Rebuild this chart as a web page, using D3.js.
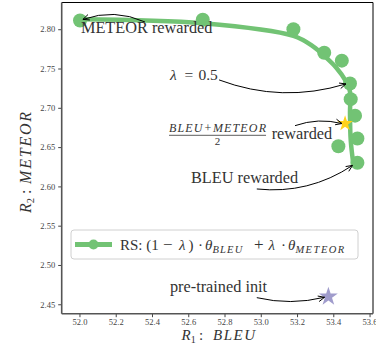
<!DOCTYPE html>
<html>
<head>
<meta charset="utf-8">
<script src="https://cdn.jsdelivr.net/npm/d3@7"></script>
<style>
  body { margin: 0; background: #fff; }
  text { font-family: "Liberation Serif", "DejaVu Serif", serif; fill: #333; }
</style>
</head>
<body>
<svg></svg>
<script>
// points of the rewarded soup, lambda from 0 (BLEU) to 1 (METEOR)
const rsBleu = [53.533, 53.428, 53.533, 53.52, 53.496, 53.492, 53.447, 53.35, 53.18, 52.68, 52.003];
const rsMeteor = [2.630, 2.651, 2.661, 2.690, 2.711, 2.731, 2.760, 2.770, 2.800, 2.812, 2.811];

// smooth curve drawn through the soup
const curveBleu = [53.51, 53.496, 53.492, 53.492, 53.465, 53.419, 53.355, 53.29, 53.18, 52.68, 52.003];
const curveMeteor = [2.6295, 2.6591, 2.6935, 2.7206, 2.7355, 2.7504, 2.7651, 2.7779, 2.7915, 2.8076, 2.8127];

// stars
const avgPoint = [53.465, 2.680];
const initPoint = [53.373, 2.4597];

const xTicks = [52.0, 52.2, 52.4, 52.6, 52.8, 53.0, 53.2, 53.4, 53.6];
const yTicks = [2.45, 2.50, 2.55, 2.60, 2.65, 2.70, 2.75, 2.80];

// svg size
const w = 376;
const h = 346;
const margin = { top: 2.5, right: 3, bottom: 32.3, left: 61.7 };
const chartW = w - margin.left - margin.right;
const chartH = h - margin.top - margin.bottom;

const green = "#72c374";

const svg = d3.select("svg").attr("width", w).attr("height", h);
const chart = svg.append("g")
  .attr("transform", `translate(${margin.left}, ${margin.top})`);

const xScale = d3.scaleLinear().domain([51.902, 53.619]).range([0, chartW]);
const yScale = d3.scaleLinear().domain([2.438, 2.834]).range([chartH, 0]);

// axes
const xAxis = chart.append("g")
  .attr("transform", `translate(0, ${chartH})`)
  .call(d3.axisBottom(xScale).tickValues(xTicks).tickFormat(d3.format(".1f")).tickSize(3.5).tickPadding(2));
const yAxis = chart.append("g")
  .call(d3.axisLeft(yScale).tickValues(yTicks).tickFormat(d3.format(".2f")).tickSize(3.5).tickPadding(3));
[xAxis, yAxis].forEach(a => {
  a.select(".domain").remove();
  a.selectAll(".tick line").attr("stroke", "#444").attr("stroke-width", 1);
  a.selectAll(".tick text").attr("font-size", 8.5).style("fill", "#444");
});

// spines
chart.append("line").attr("x1", 0).attr("x2", chartW).attr("y1", 0).attr("y2", 0)
  .attr("stroke", "#000").attr("stroke-width", 1);
chart.append("line").attr("x1", chartW).attr("x2", chartW).attr("y1", 0).attr("y2", chartH)
  .attr("stroke", "#000").attr("stroke-width", 1);
chart.append("line").attr("x1", 0).attr("x2", 0).attr("y1", 0).attr("y2", chartH)
  .attr("stroke", "#555").attr("stroke-width", 1.6);
chart.append("line").attr("x1", 0).attr("x2", chartW).attr("y1", chartH).attr("y2", chartH)
  .attr("stroke", "#555").attr("stroke-width", 1.6);

// curve
const curveData = curveBleu.map((d, i) => [d, curveMeteor[i]]);
chart.append("path")
  .datum(curveData)
  .attr("fill", "none")
  .attr("stroke", green)
  .attr("stroke-width", 4.5)
  .attr("stroke-linecap", "round")
  .attr("d", d3.line().x(d => xScale(d[0])).y(d => yScale(d[1])).curve(d3.curveCatmullRom));

// soup points
chart.selectAll(".rs")
  .data(rsBleu.map((d, i) => [d, rsMeteor[i]]))
  .enter()
  .append("circle")
  .attr("cx", d => xScale(d[0]))
  .attr("cy", d => yScale(d[1]))
  .attr("r", 7)
  .attr("fill", green);

// stars
const star = d3.symbol().type(d3.symbolStar);
chart.append("path")
  .attr("d", star.size(75)())
  .attr("transform", `translate(${xScale(avgPoint[0])}, ${yScale(avgPoint[1])})`)
  .attr("fill", "#ffd21a");
chart.append("path")
  .attr("d", star.size(110)())
  .attr("transform", `translate(${xScale(initPoint[0])}, ${yScale(initPoint[1])})`)
  .attr("fill", "#a09ccc");

// annotations: text position, arrow start, arrow end, bend
const notes = [
  { text: "METEOR rewarded", at: [52.008, 2.7957], from: [52.361, 2.8093], to: [52.019, 2.8125], rad: 0.2 },
  { text: "λ = 0.5", at: [52.499, 2.7355], from: [52.77, 2.7355], to: [53.47, 2.7304], rad: 0.17 },
  { text: "rewarded", at: [53.06, 2.660], from: [53.189, 2.6773], to: [53.448, 2.680], rad: -0.15 },
  { text: "BLEU rewarded", at: [52.615, 2.604], from: [52.978, 2.5967], to: [53.506, 2.6267], rad: 0.18 },
  { text: "pre-trained init", at: [52.499, 2.466], from: [52.978, 2.4584], to: [53.352, 2.4589], rad: 0.12 }
];

notes.forEach(n => {
  const tx = xScale(n.at[0]);
  const t = chart.append("text")
    .attr("x", tx)
    .attr("y", yScale(n.at[1]))
    .attr("font-size", 16.3);
  if (n.text === "λ = 0.5") {
    t.attr("font-size", 15.5);
    t.append("tspan").attr("font-style", "italic").text("λ");
    t.append("tspan").attr("x", tx + 14.5).text("=");
    t.append("tspan").attr("x", tx + 28.5).text("0.5");
  } else {
    t.text(n.text);
  }

  const x1 = xScale(n.from[0]), y1 = yScale(n.from[1]);
  const x2 = xScale(n.to[0]), y2 = yScale(n.to[1]);
  const dx = x2 - x1, dy = y2 - y1;
  const cx = (x1 + x2) / 2 - n.rad * dy;
  const cy = (y1 + y2) / 2 + n.rad * dx;
  chart.append("path")
    .attr("d", `M${x1},${y1}Q${cx},${cy} ${x2},${y2}`)
    .attr("fill", "none").attr("stroke", "#000").attr("stroke-width", 1);
  // open arrow head
  const ang = Math.atan2(y2 - cy, x2 - cx);
  const len = 7, spread = 0.42;
  const hx1 = x2 - len * Math.cos(ang - spread), hy1 = y2 - len * Math.sin(ang - spread);
  const hx2 = x2 - len * Math.cos(ang + spread), hy2 = y2 - len * Math.sin(ang + spread);
  chart.append("path")
    .attr("d", `M${hx1},${hy1}L${x2},${y2}L${hx2},${hy2}`)
    .attr("fill", "none").attr("stroke", "#000").attr("stroke-width", 1);
});

// fraction (BLEU+METEOR)/2
const fracX = xScale(52.494) + (266 - 169) / 2;
const fracY = yScale(2.665);
chart.append("text")
  .attr("x", fracX).attr("y", fracY - 3.5)
  .attr("text-anchor", "middle")
  .attr("font-size", 12).attr("font-style", "italic")
  .attr("textLength", 97)
  .text("BLEU+METEOR");
chart.append("line")
  .attr("x1", fracX - 48.5).attr("x2", fracX + 48.5)
  .attr("y1", fracY).attr("y2", fracY)
  .attr("stroke", "#333").attr("stroke-width", 0.8);
chart.append("text")
  .attr("x", fracX).attr("y", fracY + 9.5)
  .attr("text-anchor", "middle")
  .attr("font-size", 11)
  .text("2");

// legend
const leg = svg.append("g");
leg.append("rect")
  .attr("x", 71).attr("y", 230).attr("width", 287).attr("height", 29)
  .attr("rx", 3).attr("fill", "#fff").attr("stroke", "#d0d0d0").attr("stroke-width", 1);
leg.append("line")
  .attr("x1", 75).attr("x2", 112).attr("y1", 244.5).attr("y2", 244.5)
  .attr("stroke", green).attr("stroke-width", 5);
leg.append("circle").attr("cx", 93.5).attr("cy", 244.5).attr("r", 5).attr("fill", green);
const lt = leg.append("text").attr("x", 120).attr("y", 249.5).attr("font-size", 15);
lt.append("tspan").text("RS: (1");
lt.append("tspan").attr("x", 163).attr("font-size", 17).text("−");
lt.append("tspan").attr("x", 179).attr("font-style", "italic").text("λ");
lt.append("tspan").attr("x", 188.5).text(")");
lt.append("tspan").attr("x", 198).text("·");
lt.append("tspan").attr("x", 205).attr("font-style", "italic").text("θ");
lt.append("tspan").attr("font-style", "italic").attr("font-size", 10.5)
  .attr("letter-spacing", 1.2).attr("dy", 3).text("BLEU");
lt.append("tspan").attr("x", 254).attr("dy", -3).attr("font-size", 17).text("+");
lt.append("tspan").attr("x", 268.5).attr("font-style", "italic").text("λ");
lt.append("tspan").attr("x", 281).text("·");
lt.append("tspan").attr("x", 288).attr("font-style", "italic").text("θ");
lt.append("tspan").attr("font-style", "italic").attr("font-size", 10.5)
  .attr("letter-spacing", 1.5).attr("dy", 3).text("METEOR");

// axis titles
const xt = svg.append("text")
  .attr("x", 181.5)
  .attr("y", 339.5)
  .attr("font-size", 15);
xt.append("tspan").attr("font-style", "italic").text("R");
xt.append("tspan").attr("font-size", 10).attr("dy", 3).text("1");
xt.append("tspan").attr("x", 199).attr("dy", -3).text(":");
xt.append("tspan").attr("x", 213).attr("font-style", "italic").attr("letter-spacing", 1.5).text("BLEU");

const yt = svg.append("text")
  .attr("transform", `translate(31, 213) rotate(-90)`)
  .attr("font-size", 16);
yt.append("tspan").attr("font-style", "italic").text("R");
yt.append("tspan").attr("font-size", 10.5).attr("dy", 3).text("2");
yt.append("tspan").attr("x", 19).attr("dy", -3).text(":");
yt.append("tspan").attr("x", 29).attr("font-style", "italic").attr("letter-spacing", 1.8).text("METEOR");
</script>
</body>
</html>
